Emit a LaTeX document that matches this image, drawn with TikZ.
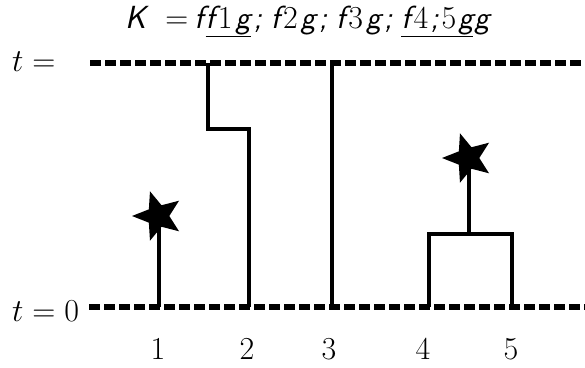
\RequirePackage{fix-cm}
\documentclass[tikz,border=0pt]{standalone}
\usetikzlibrary{shapes.geometric}
\newcommand\dg[1]{{\rmfamily\upshape #1}}
\begin{document}
\begin{tikzpicture}[x=1pt,y=-1pt,
  dline/.style={line width=5.4pt, dash pattern=on 10.5pt off 4.5pt},
  tree/.style={line width=4.8pt},
  leaf/.style={star, star points=5, star point ratio=2.3, fill=black, draw=none,
    inner sep=0pt, minimum size=52pt, shape border rotate=18},
  lbl/.style={font=\fontsize{32}{36}\selectfont, inner sep=0pt}]
\useasboundingbox (0,0) rectangle (585,367);
% title
\node[inner sep=0pt, anchor=base west] (title) at (125,28)
  {\fontsize{32}{36}\selectfont\sffamily\itshape K\hspace{19pt}\upshape=\hspace{6pt}\itshape
   f\kern2pt\underline{f\kern3pt\dg{1}\kern3pt g}\kern3pt;\hspace{9pt}%
   f\kern3pt\dg{2}\kern3pt g\kern3pt;\hspace{9pt}%
   f\kern3pt\dg{3}\kern3pt g\kern3pt;\hspace{9pt}%
   \underline{f\kern3pt\dg{4}\kern2pt;\kern3pt\dg{5}\kern2pt g}\kern1pt g};
% time labels
\node[lbl, anchor=base west] (ttop) at (12,71) {$t =$};
\node[lbl, anchor=base west] (tbot) at (12,321) {$t = 0$};
\coordinate (L1) at (90,63);  \coordinate (R1) at (585,63);
\coordinate (L0) at (89,307); \coordinate (R0) at (585,307);
\draw[dline] (L1) -- (R1);
\draw[dline] (L0) -- (R0);
% leaf bases
\coordinate (b1) at (159,307);
\coordinate (b2) at (249,307);
\coordinate (b3) at (332,307);
\coordinate (b4) at (429,307);
\coordinate (b5) at (512,307);
% lineage 1
\node[leaf] (s1) at (158,216) {};
\draw[tree] (b1) -- (b1 |- s1.center);
% lineage 2
\coordinate (t2) at (208,63);
\coordinate (k2) at (208,129);
\draw[tree] (t2) -- (k2) -- (k2 -| b2) -- (b2);
% lineage 3
\draw[tree] (b3) -- (b3 |- t2);
% lineages 4 and 5
\coordinate (j45) at (469,234);
\node[leaf] (s2) at (468,158) {};
\draw[tree] (b4) -- (b4 |- j45) -- (j45 -| b5) -- (b5);
\draw[tree] (j45) -- (j45 |- s2.center);
% bottom labels
\node[lbl, anchor=base] (n1) at (158,359) {1};
\node[lbl, anchor=base] (n2) at (247,359) {2};
\node[lbl, anchor=base] (n3) at (329,359) {3};
\node[lbl, anchor=base] (n4) at (423,359) {4};
\node[lbl, anchor=base] (n5) at (511,359) {5};
\end{tikzpicture}
\end{document}
